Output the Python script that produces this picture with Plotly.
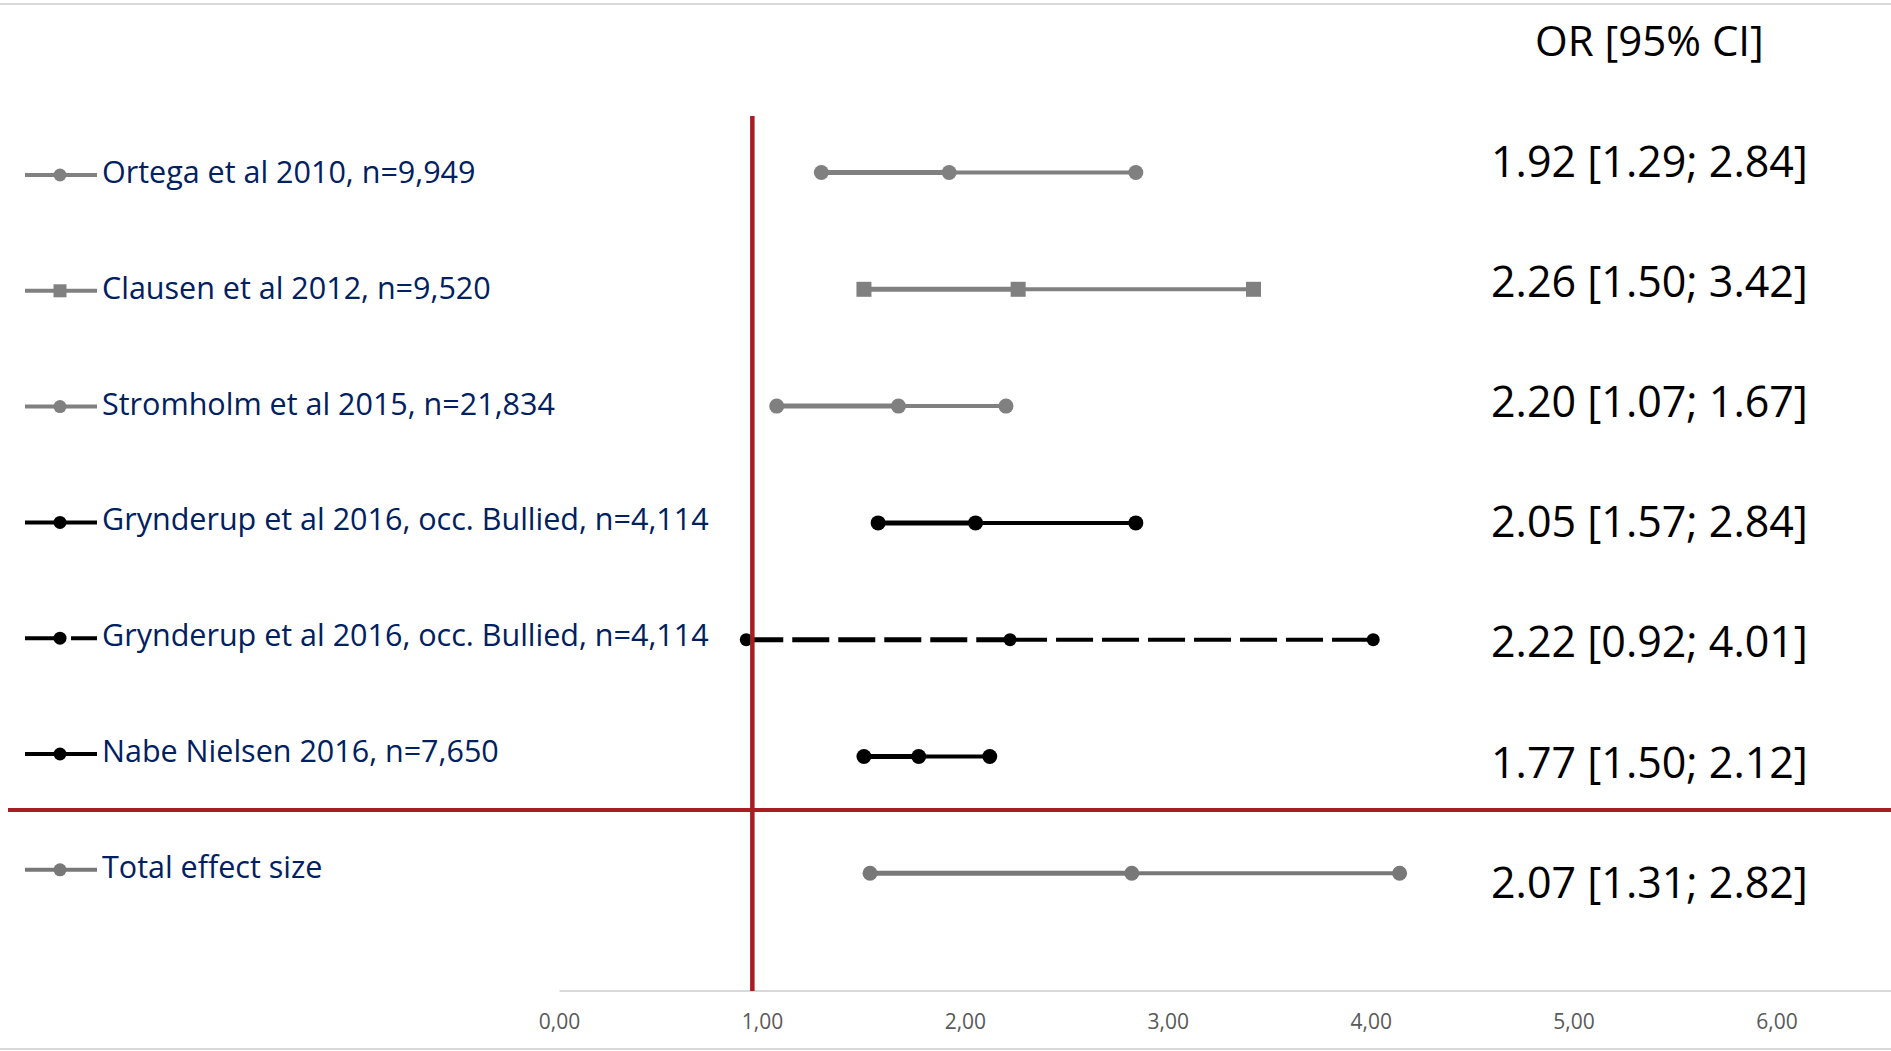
import plotly.graph_objects as go

# ---- data -------------------------------------------------------------
studies = [
    "Ortega et al 2010, n=9,949",
    "Clausen et al 2012, n=9,520",
    "Stromholm et al 2015, n=21,834",
    "Grynderup et al 2016, occ. Bullied, n=4,114",
    "Grynderup et al 2016, occ. Bullied, n=4,114",
    "Nabe Nielsen 2016, n=7,650",
    "Total effect size",
]
ci_low = [1.29, 1.50, 1.07, 1.57, 0.92, 1.50, 1.53]
point_est = [1.92, 2.26, 1.67, 2.05, 2.22, 1.77, 2.82]
ci_high = [2.84, 3.42, 2.20, 2.84, 4.01, 2.12, 4.14]
or_labels = [
    "1.92 [1.29; 2.84]",
    "2.26 [1.50; 3.42]",
    "2.20 [1.07; 1.67]",
    "2.05 [1.57; 2.84]",
    "2.22 [0.92; 4.01]",
    "1.77 [1.50; 2.12]",
    "2.07 [1.31; 2.82]",
]
ref_value = 0.95
tick_vals = [0, 1, 2, 3, 4, 5, 6]
tick_text = ["0,00", "1,00", "2,00", "3,00", "4,00", "5,00", "6,00"]

# ---- styles -------------------------------------------------------------
GRAY, BLACK, DGRAY = "#808080", "#000000", "#787878"
RED = "#A61D24"
NAVY = "#002060"
row_colors = [GRAY, GRAY, GRAY, BLACK, BLACK, BLACK, DGRAY]
row_symbols = ["circle", "square", "circle", "circle", "circle", "circle", "circle"]
row_dash = ["solid", "solid", "solid", "solid", "37px,9px", "solid", "solid"]
row_msize = [15, 15, 15, 15, 13, 15, 15]

W, H = 1891, 1051
MB = 60                      # bottom margin (axis baseline at H - MB)
PLOT_H = H - MB
X0_PX, UNIT_PX = 559.6, 202.9  # pixel of x=0 and pixels per unit
ROW0_PX, ROW_STEP = 172.5, 116.8


def px_x(px):
    return (px - X0_PX) / UNIT_PX


def px_y(px):
    return (px - ROW0_PX) / ROW_STEP


fig = go.Figure()

for i in range(len(studies)):
    c = row_colors[i]
    fig.add_trace(go.Scatter(
        x=[ci_low[i], point_est[i]], y=[i, i], mode="lines",
        line=dict(color=c, width=5, dash=row_dash[i]),
        hoverinfo="skip", showlegend=False))
    fig.add_trace(go.Scatter(
        x=[point_est[i], ci_high[i]], y=[i, i], mode="lines",
        line=dict(color=c, width=4, dash=row_dash[i]),
        hoverinfo="skip", showlegend=False))
    fig.add_trace(go.Scatter(
        x=[ci_low[i], point_est[i], ci_high[i]], y=[i, i, i], mode="markers",
        marker=dict(color=c, symbol=row_symbols[i], size=row_msize[i]),
        name=studies[i], showlegend=False))

    # key swatch next to the study name
    ky = px_y(175 + 115.8 * i)
    fig.add_trace(go.Scatter(
        x=[px_x(25), px_x(97)], y=[ky, ky], mode="lines",
        line=dict(color=c, width=4, dash=row_dash[i]),
        hoverinfo="skip", showlegend=False))
    fig.add_trace(go.Scatter(
        x=[px_x(60)], y=[ky], mode="markers",
        marker=dict(color=c, symbol=row_symbols[i], size=13),
        hoverinfo="skip", showlegend=False))

annotations = []
for i, name in enumerate(studies):
    annotations.append(dict(
        x=100 / W, xref="paper", xanchor="left",
        y=px_y(171 + 115.8 * i), yref="y", yanchor="middle",
        text=name, showarrow=False,
        font=dict(family="Open Sans", size=30.5, color=NAVY)))
    annotations.append(dict(
        x=px_x(1649), xref="x", xanchor="center",
        y=px_y(160 + 120.2 * i), yref="y", yanchor="middle",
        text=or_labels[i], showarrow=False,
        font=dict(family="Open Sans", size=43, color="black")))
annotations.append(dict(
    x=px_x(1649), xref="x", xanchor="center",
    y=px_y(39), yref="y", yanchor="middle",
    text="OR [95% CI]", showarrow=False,
    font=dict(family="Open Sans", size=42, color="black")))

shapes = [
    # chart frame lines
    dict(type="line", xref="paper", yref="paper", x0=0, x1=1,
         y0=(PLOT_H - 4) / PLOT_H, y1=(PLOT_H - 4) / PLOT_H,
         line=dict(color="#D9D9D9", width=2)),
    dict(type="line", xref="paper", yref="paper", x0=0, x1=1,
         y0=(PLOT_H - 1049) / PLOT_H, y1=(PLOT_H - 1049) / PLOT_H,
         line=dict(color="#D9D9D9", width=2)),
    # x axis baseline
    dict(type="line", xref="x", yref="paper", x0=0, x1=px_x(W), y0=0, y1=0,
         line=dict(color="#D9D9D9", width=2)),
    # separator above the pooled estimate
    dict(type="line", xref="x", yref="y", x0=px_x(8), x1=px_x(W),
         y0=px_y(810), y1=px_y(810), line=dict(color=RED, width=4), layer="above"),
    # line of no effect
    dict(type="line", xref="x", yref="paper", x0=ref_value, x1=ref_value,
         y0=(PLOT_H - 116) / PLOT_H, y1=0, line=dict(color=RED, width=4.5), layer="above"),
]

fig.update_layout(
    width=W, height=H,
    margin=dict(l=0, r=0, t=0, b=MB),
    paper_bgcolor="white", plot_bgcolor="white",
    showlegend=False,
    annotations=annotations,
    shapes=shapes,
    xaxis=dict(range=[px_x(0), px_x(W)], tickvals=tick_vals, ticktext=tick_text,
               showgrid=False, zeroline=False, showline=False, ticks="",
               ticklabelstandoff=16,
               tickfont=dict(family="Open Sans", size=21, color="#595959")),
    yaxis=dict(range=[px_y(PLOT_H), px_y(0)], showgrid=False, zeroline=False,
               showline=False, showticklabels=False, ticks=""),
)

fig.write_html("out.html", config={"displayModeBar": False})
